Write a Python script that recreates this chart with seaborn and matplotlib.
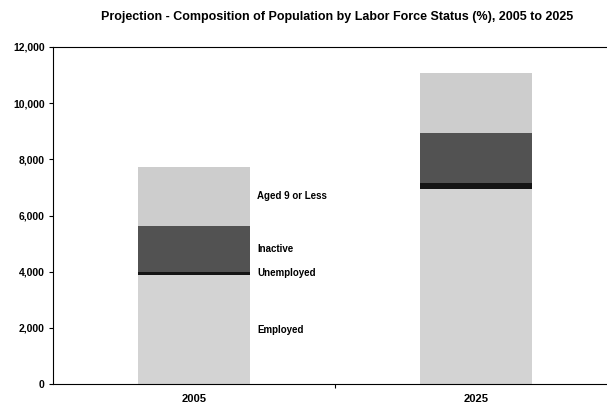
import numpy as np
import pandas as pd
import matplotlib
matplotlib.use("Agg")
import matplotlib.pyplot as plt
import seaborn as sns
from matplotlib.ticker import FuncFormatter, FixedLocator

# values (thousands of persons)
years = ["2005", "2025"]
employed = [3880, 6930]
unemployed = [120, 215]
inactive = [1630, 1780]
aged_9_or_less = [2110, 2140]

segment_names = ["Employed", "Unemployed", "Inactive", "Aged 9 or Less"]
segment_colors = ["#d3d3d3", "#141414", "#525252", "#cdcdcd"]

sns.set_style("white")
plt.rcParams["font.family"] = ["Liberation Sans", "DejaVu Sans"]
plt.rcParams["text.color"] = "black"
plt.rcParams["xtick.color"] = "black"
plt.rcParams["ytick.color"] = "black"

df = pd.DataFrame(
    {
        "year": years,
        "Employed": employed,
        "Unemployed": unemployed,
        "Inactive": inactive,
        "Aged 9 or Less": aged_9_or_less,
    }
)
cum = df[segment_names].cumsum(axis=1)

fig = plt.figure(figsize=(6.07, 4.04), dpi=100)
ax = fig.add_axes([53 / 607, 20 / 404, 564 / 607, 337 / 404])

# stacked bars: draw cumulative tops from the largest down
for name, color in reversed(list(zip(segment_names, segment_colors))):
    sns.barplot(
        x=df["year"], y=cum[name], color=color, saturation=1,
        width=0.4, linewidth=0, ax=ax,
    )

# segment labels next to the 2005 bar
bottoms = cum.shift(1, axis=1).fillna(0)
for name in segment_names:
    mid = (bottoms.loc[0, name] + cum.loc[0, name]) / 2
    ax.text(0.225, mid, name, fontsize=7, fontweight="bold",
            va="center", ha="left", color="black")

ax.set_xlim(-0.5, 1.5)
ax.set_ylim(0, 12000)
ax.set_yticks(range(0, 12001, 2000))
ax.yaxis.set_major_formatter(FuncFormatter(lambda v, p: f"{v:,.0f}"))
ax.set_xlabel("")
ax.set_ylabel("")

ax.tick_params(axis="y", length=3, width=0.8, direction="out", pad=3,
               labelsize=7.5, left=True)
ax.tick_params(axis="x", which="major", length=0, pad=7, labelsize=8)
ax.xaxis.set_minor_locator(FixedLocator([0.5]))
ax.tick_params(axis="x", which="minor", length=3, width=0.8,
               direction="out", bottom=True)
for lbl in ax.get_xticklabels() + ax.get_yticklabels():
    lbl.set_fontweight("bold")

for side in ["left", "bottom", "top"]:
    ax.spines[side].set_color("black")
    ax.spines[side].set_linewidth(0.8)
ax.spines["right"].set_visible(False)

fig.text(337 / 607, 1 - 17 / 404,
         "Projection - Composition of Population by Labor Force Status (%), 2005 to 2025",
         ha="center", va="center", fontsize=9, fontweight="bold")

fig.savefig("out.png", dpi=100)
